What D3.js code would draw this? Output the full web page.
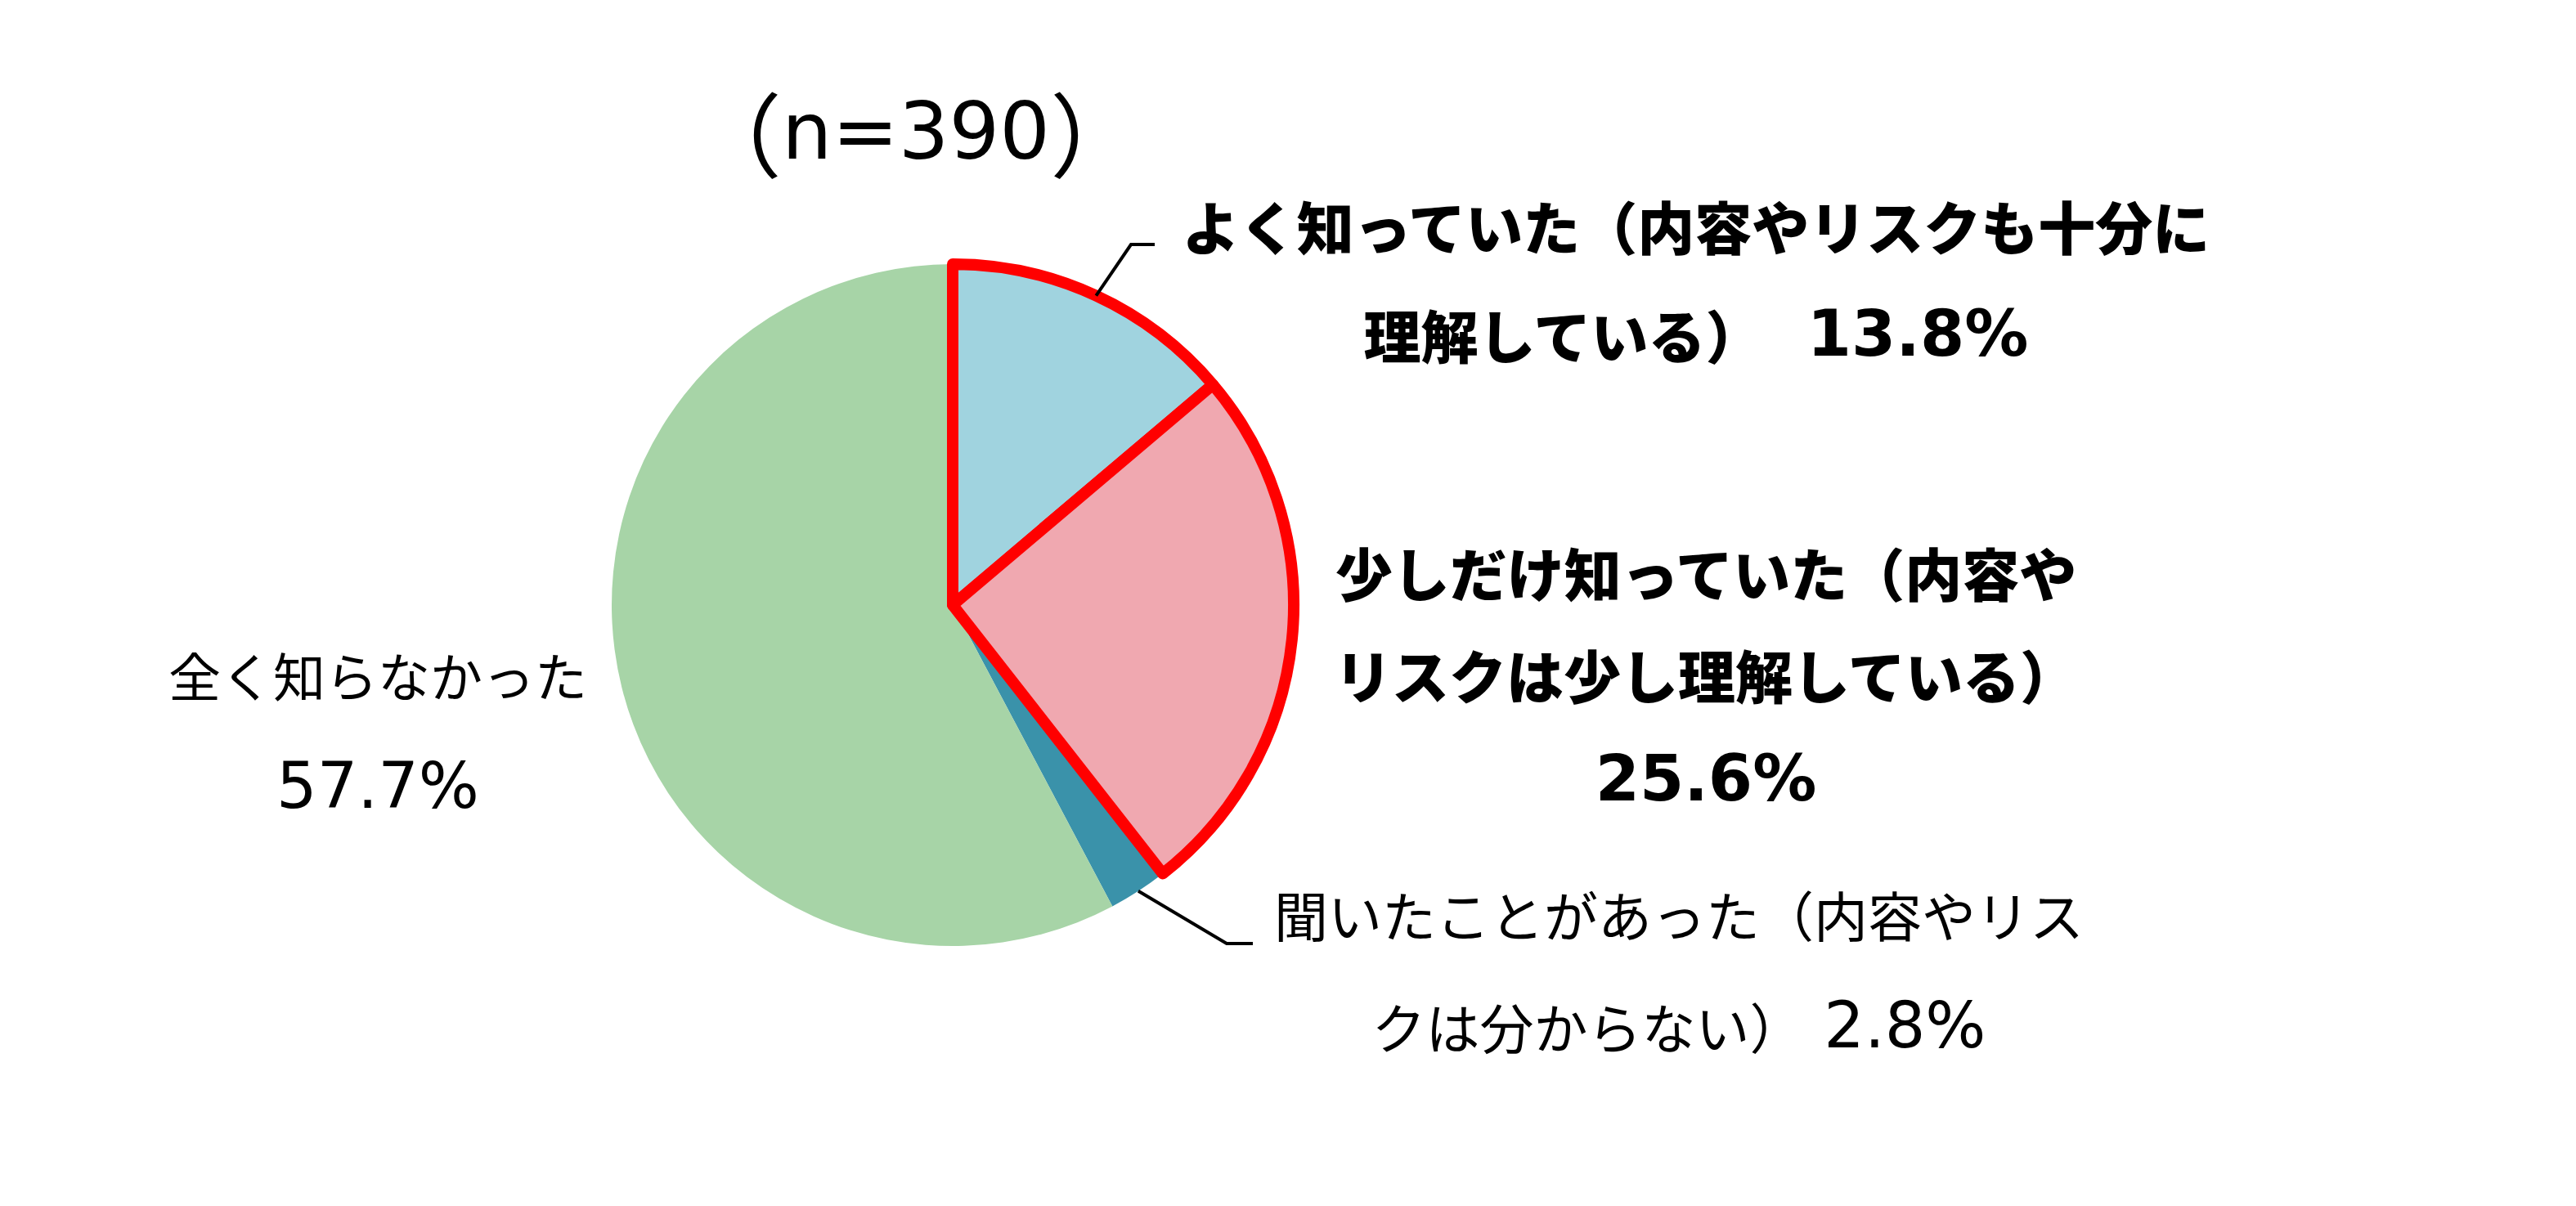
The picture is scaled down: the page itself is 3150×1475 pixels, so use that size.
<!DOCTYPE html>
<html>
<head>
<meta charset="utf-8">
<style>
    body { margin: 0; background: #fff; }
    text { font-family: "Noto Sans CJK JP", "Noto Sans", sans-serif; fill: #000; }
    .num { font-family: "DejaVu Sans", "Noto Sans CJK JP", sans-serif; }
</style>
</head>
<body>
<div id="chart"></div>
<script src="https://d3js.org/d3.v7.min.js"></script>
<script>
    // data
    const categories = [
        "よく知っていた（内容やリスクも十分に理解している）",
        "少しだけ知っていた（内容やリスクは少し理解している）",
        "聞いたことがあった（内容やリスクは分からない）",
        "全く知らなかった"
    ]
    const values = [13.8, 25.6, 2.8, 57.7]
    const valueLabels = ["13.8%", "25.6%", "2.8%", "57.7%"]
    // category text as it wraps in the picture
    const labelLines = [
        ["よく知っていた（内容やリスクも十分に", "理解している）"],
        ["少しだけ知っていた（内容や", "リスクは少し理解している）"],
        ["聞いたことがあった（内容やリス", "クは分からない）"],
        ["全く知らなかった"]
    ]
    const valueInline = [true, false, true, false]
    const highlighted = [true, true, false, false]
    const boldLabel = [true, true, false, false]
    const colors = ["#A0D3DF", "#F0A8B0", "#3A92AA", "#A7D4A7"]
    const titleN = "n=390"

    const width = 3150
    const height = 1475
    const cx = 1165, cy = 740, radius = 417

    const svg = d3.select("#chart").append("svg")
        .attr("width", width)
        .attr("height", height)

    const pie = d3.pie().sort(null).value(d => d)
    const arcs = pie(values)
    const arc = d3.arc().innerRadius(0).outerRadius(radius)

    const g = svg.append("g").attr("transform", `translate(${cx},${cy})`)

    // plain slices first, outlined ones on top
    const order = d3.range(arcs.length).sort((a, b) => highlighted[a] - highlighted[b])
    g.selectAll("path")
        .data(order.map(i => Object.assign({ i: i }, arcs[i])))
        .enter().append("path")
        .attr("d", arc)
        .attr("fill", d => colors[d.i])
        .attr("stroke", d => highlighted[d.i] ? "#FF0000" : "none")
        .attr("stroke-width", 14)
        .attr("stroke-linejoin", "round")

    // label layout: centre of text block, line positions, font size, leader elbow
    const labelPos = [
        { x: 2074, y: [275, 408], size: 70, elbow: [1383, 299], end: 1412 },
        { x: 2086, y: [699, 824, 952], size: 70, elbow: null },
        { x: 2053, y: [1117, 1254], size: 66, elbow: [1500, 1154], end: 1532 },
        { x: 462, y: [824, 961], size: 64, elbow: null }
    ]
    const numSize = 78

    // leader lines from the slice edge at mid angle
    arcs.forEach((a, i) => {
        const p = labelPos[i]
        if (!p.elbow) return
        const mid = (a.startAngle + a.endAngle) / 2
        const sx = cx + radius * Math.sin(mid)
        const sy = cy - radius * Math.cos(mid)
        svg.append("polyline")
            .attr("points", [[sx, sy], p.elbow, [p.end, p.elbow[1]]].map(q => q.join(",")).join(" "))
            .attr("fill", "none")
            .attr("stroke", "#000")
            .attr("stroke-width", 4)
    })

    labelLines.forEach((lines, i) => {
        const p = labelPos[i]
        const weight = boldLabel[i] ? "900" : "normal"
        lines.forEach((ln, k) => {
            const t = svg.append("text")
                .attr("x", p.x)
                .attr("y", p.y[k])
                .attr("text-anchor", "middle")
                .attr("dominant-baseline", "central")
                .attr("font-size", p.size)
                .attr("font-weight", weight)
                .style("white-space", "pre")
            t.append("tspan").text(ln)
            if (valueInline[i] && k === lines.length - 1) {
                t.append("tspan")
                    .attr("class", "num")
                    .attr("font-size", numSize)
                    .attr("font-weight", boldLabel[i] ? "bold" : "normal")
                    .text((boldLabel[i] ? "  " : " ") + valueLabels[i])
            }
        })
        if (!valueInline[i]) {
            svg.append("text")
                .attr("class", "num")
                .attr("x", p.x)
                .attr("y", p.y[lines.length])
                .attr("text-anchor", "middle")
                .attr("dominant-baseline", "central")
                .attr("font-size", numSize)
                .attr("font-weight", boldLabel[i] ? "bold" : "normal")
                .text(valueLabels[i])
        }
    })

    const title = svg.append("text")
        .attr("x", 1120)
        .attr("y", 160)
        .attr("text-anchor", "middle")
        .attr("dominant-baseline", "central")
        .attr("font-size", 112)
    title.append("tspan").text("（")
    title.append("tspan").attr("class", "num").attr("font-size", 97).text(titleN)
    title.append("tspan").text("）")
</script>
</body>
</html>
